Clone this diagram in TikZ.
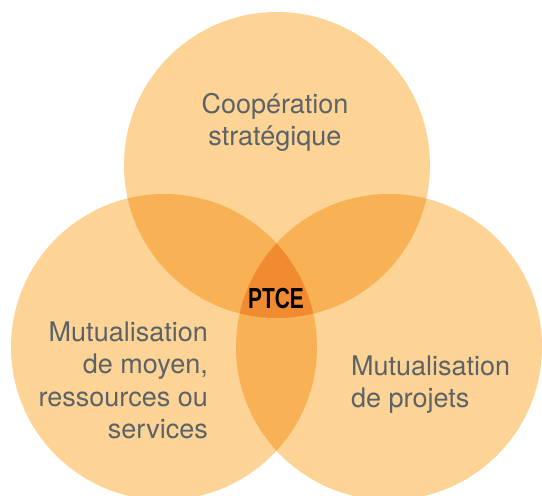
\documentclass[tikz,border=0pt]{standalone}
\usepackage{fontspec}
\setmainfont{TeX Gyre Heros}
\newfontfamily\ptcefont[FakeStretch=0.72]{Liberation Sans}
\begin{document}
\definecolor{petal}{HTML}{FDD396}
\definecolor{overlap}{HTML}{F8B155}
\definecolor{core}{HTML}{F08B32}
\definecolor{labelgray}{HTML}{5B6367}
\begin{tikzpicture}[x=1pt,y=1pt,
  setlabel/.style={inner sep=0pt, text=labelgray, font=\fontsize{27}{32.5}\selectfont},
  corelabel/.style={inner sep=0pt, text=black, font=\ptcefont\bfseries\fontsize{29}{30}\selectfont}]
\useasboundingbox (0,0) rectangle (542,496);
\def\rad{153}
\coordinate (ctop) at (277,331);
\coordinate (cleft) at (164,149);
\coordinate (cright) at (389,149);
% the three sets
\fill[petal] (ctop) circle[radius=\rad];
\fill[petal] (cleft) circle[radius=\rad];
\fill[petal] (cright) circle[radius=\rad];
% pairwise overlaps
\begin{scope}
  \clip (ctop) circle[radius=\rad];
  \fill[overlap] (cleft) circle[radius=\rad];
  \fill[overlap] (cright) circle[radius=\rad];
\end{scope}
\begin{scope}
  \clip (cleft) circle[radius=\rad];
  \fill[overlap] (cright) circle[radius=\rad];
\end{scope}
% common core
\begin{scope}
  \clip (ctop) circle[radius=\rad];
  \clip (cleft) circle[radius=\rad];
  \fill[core] (cright) circle[radius=\rad];
\end{scope}
% labels (base anchor sits on the last line)
\node[setlabel, align=center, anchor=base] (ltop) at (275,350) {Coopération\\stratégique};
\node[setlabel, align=right, anchor=base east] (lleft) at (208,57) {Mutualisation\\de moyen,\\ressources ou\\services};
\node[setlabel, align=left, anchor=base west] (lright) at (351,88) {Mutualisation\\de projets};
\node[corelabel, anchor=base] (lcore) at (276,187) {PTCE};
\end{tikzpicture}
\end{document}
